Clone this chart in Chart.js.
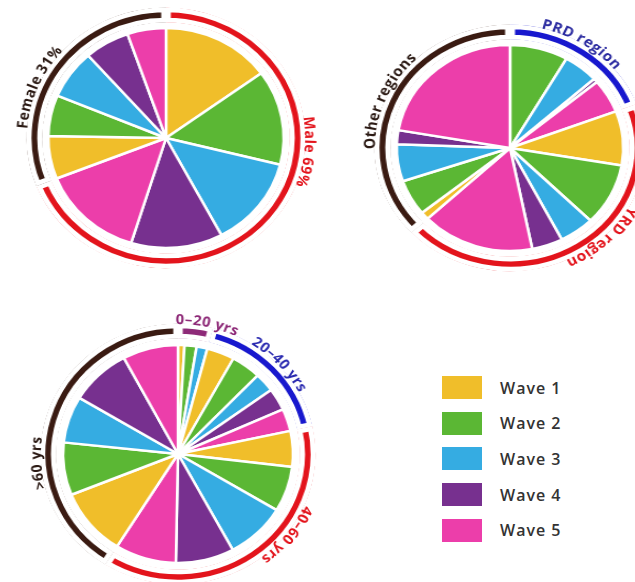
<!DOCTYPE html>
<html>
<head>
<meta charset="utf-8">
<script src="https://cdn.jsdelivr.net/npm/chart.js@4.4.1/dist/chart.umd.min.js"></script>
<style>
  body { margin: 0; width: 635px; height: 582px; overflow: hidden; background: #fff; position: relative; font-family: "Open Sans", sans-serif; }
  .pie { position: absolute; width: 300px; height: 300px; transform-origin: 150px 150px; }
  #legend { position: absolute; left: 442px; top: 376px; }
  .item { display: flex; align-items: center; height: 23px; margin-bottom: 12.7px; }
  .swatch { width: 40px; height: 23px; margin-right: 18px; }
  .item span { font-size: 16px; font-weight: 600; color: #333; letter-spacing: 1px; }
</style>
</head>
<body>
<div class="pie" id="box1"><canvas id="gender" width="300" height="300"></canvas></div>
<div class="pie" id="box2"><canvas id="region" width="300" height="300"></canvas></div>
<div class="pie" id="box3"><canvas id="age" width="300" height="300"></canvas></div>
<div id="legend"></div>

<script>
const waves = ['Wave 1', 'Wave 2', 'Wave 3', 'Wave 4', 'Wave 5'];
const waveColors = ['#F0BE2A', '#5BB734', '#35ACE2', '#77308F', '#EC3EAA'];

// cases by gender, % of total
const genderGroups = ['Male 69%', 'Female 31%'];
const genderShare = [69, 31];
const male = [15.0, 13.9, 13.3, 12.6, 14.2];
const female = [6.3, 6.0, 7.2, 6.2, 5.3];

// cases by region, % of total
const regionGroups = ['PRD region', 'YRD region', 'Other regions'];
const prd = [0, 8.3, 5.0, 0.6, 5.3];
const yrd = [8.5, 9.7, 5.0, 4.4, 16.1];
const otherRegions = [1.2, 5.6, 5.8, 2.2, 22.2];

// cases by age group, % of total
const ageGroups = ['0–20 yrs', '20–40 yrs', '40–60 yrs', '>60 yrs'];
const age0to20 = [0.9, 1.7, 1.5, 0, 0];
const age20to40 = [3.9, 4.2, 2.8, 3.3, 3.3];
const age40to60 = [5.3, 6.7, 8.5, 8.2, 8.6];
const ageOver60 = [10.0, 7.8, 6.9, 8.6, 7.8];

const RED = '#E3141C', BROWN = '#3A1B12', BLUE = '#1818CE', PURPLE = '#8E2A78';
const RING_BORDER = 4.5;

// writes each group name around the outside of its ring segment, clockwise
const arcLabels = {
  id: 'arcLabels',
  afterDatasetsDraw(chart, args, opts) {
    const arcs = chart.getDatasetMeta(0).data;
    const ctx = chart.ctx;
    ctx.save();
    ctx.font = opts.font;
    ctx.textAlign = 'center';
    ctx.textBaseline = 'alphabetic';
    opts.texts.forEach((text, i) => {
      const arc = arcs[i];
      const r = arc.outerRadius - RING_BORDER + opts.pad;
      const ls = opts.spacing;
      const chars = [...text];
      const widths = chars.map(c => ctx.measureText(c).width);
      const total = widths.reduce((a, b) => a + b + ls, 0) - ls;
      let a = (opts.angles[i] - 90) * Math.PI / 180 - total / r / 2;
      ctx.fillStyle = opts.colors[i];
      chars.forEach((c, k) => {
        const mid = a + widths[k] / 2 / r;
        ctx.save();
        ctx.translate(arc.x + r * Math.cos(mid), arc.y + r * Math.sin(mid));
        ctx.rotate(mid + Math.PI / 2);
        ctx.fillText(c, 0, 0);
        ctx.restore();
        a += (widths[k] + ls) / r;
      });
    });
    ctx.restore();
  }
};

const sum = arr => arr.reduce((a, b) => a + b, 0);

function makePie(id, groups, ringValues, ringColors, series, labelColors, labelAngles, sizes) {
  const slices = series.flat();
  const sliceColors = series.flatMap(() => waveColors);
  new Chart(document.getElementById(id), {
    type: 'doughnut',
    data: {
      datasets: [
        {
          data: ringValues,
          backgroundColor: ringColors,
          borderColor: '#fff',
          borderWidth: RING_BORDER,
          borderAlign: 'inner',
          weight: 15
        },
        {
          data: [1],
          backgroundColor: 'rgba(0,0,0,0)',
          borderWidth: 0,
          weight: sizes.gap
        },
        {
          data: slices,
          backgroundColor: sliceColors,
          borderColor: '#fff',
          borderWidth: 2.5,
          weight: sizes.pie
        }
      ]
    },
    options: {
      responsive: false,
      animation: false,
      events: [],
      cutout: 0,
      radius: 15 + sizes.gap + sizes.pie,
      layout: { padding: 0 },
      plugins: {
        legend: { display: false },
        tooltip: { enabled: false },
        arcLabels: {
          texts: groups,
          colors: labelColors,
          angles: labelAngles,
          pad: 4,
          spacing: 0.4,
          font: '700 14px "Open Sans"'
        }
      }
    },
    plugins: [arcLabels]
  });
}

function place(boxId, cx, cy, sx) {
  const el = document.getElementById(boxId);
  el.style.left = (cx - 150) + 'px';
  el.style.top = (cy - 150) + 'px';
  el.style.transform = 'scaleX(' + sx + ')';
}

place('box1', 166, 138, 1.07);
place('box2', 510, 148, 1.1);
place('box3', 178, 454, 1.055);

makePie('gender', genderGroups, genderShare, [RED, BROWN],
  [male, female],
  [RED, '#2B1A14'], [96, 293], { gap: 5.5, pie: 110 });

const regionSeries = [prd, yrd, otherRegions];
makePie('region', regionGroups, regionSeries.map(sum), [BLUE, RED, BROWN],
  regionSeries,
  ['#2A2AA0', RED, '#2B1A14'], [32, 137, 293], { gap: 5.5, pie: 103 });

const ageSeries = [age0to20, age20to40, age40to60, ageOver60];
makePie('age', ageGroups, ageSeries.map(sum), [PURPLE, BLUE, RED, BROWN],
  ageSeries,
  [PURPLE, '#2A2AB0', RED, '#2B1A14'], [12, 47, 128, 266], { gap: 6.5, pie: 109 });

// wave legend
const legend = document.getElementById('legend');
waves.forEach((w, i) => {
  const item = document.createElement('div');
  item.className = 'item';
  const sw = document.createElement('div');
  sw.className = 'swatch';
  sw.style.background = waveColors[i];
  const label = document.createElement('span');
  label.innerText = w;
  item.appendChild(sw);
  item.appendChild(label);
  legend.appendChild(item);
});
</script>
</body>
</html>
